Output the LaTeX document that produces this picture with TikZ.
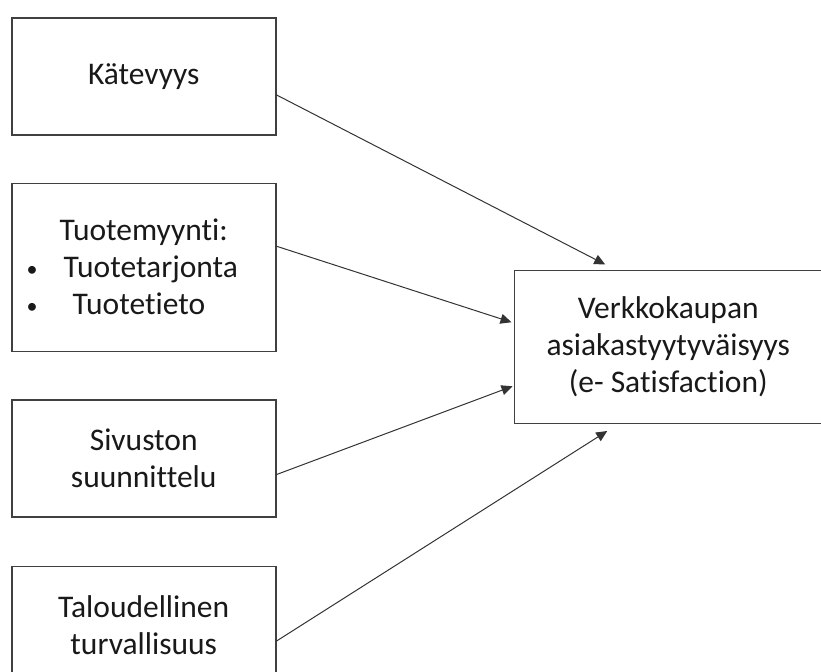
\documentclass[tikz,border=0pt]{standalone}
\usepackage{fontspec}
\setmainfont{Carlito}[Ligatures=NoCommon]
\usepackage{tikz}
\usepackage{xcolor}
\usetikzlibrary{shapes,arrows.meta,positioning,calc}

\newcommand{\smallbul}{{\fontsize{11}{11}\selectfont\raisebox{0.5pt}{\textbullet}}}

\tikzset{
	box/.style={rectangle, draw=black!75, line width=0.75pt, minimum width=132pt, minimum height=58.5pt, align=center, text=black!90, font=\fontsize{15.75}{18.5}\selectfont},
	arr/.style={draw=black!80, line width=0.5pt, -{Triangle[length=5.5pt,width=5pt]}}
}

\begin{document}
\begin{tikzpicture}
				\useasboundingbox (0,0) rectangle (410.5pt,-335.5pt);
				\node[box, anchor=north west] (kat) at (5.5pt,-8.5pt) {Kätevyys};
				\node[box, minimum height=84pt, below=23.5pt of kat, align=left, text width=120pt, inner xsep=6pt] (tuo) {\makebox[120pt]{Tuotemyynti:}\\ \makebox[20pt][l]{\hspace{1.5pt}\smallbul}Tuotetarjonta\\ \makebox[24.5pt][l]{\hspace{1.5pt}\smallbul}Tuotetieto};
				\node[box, below=23.5pt of tuo] (siv) {Sivuston\\ suunnittelu};
				\node[box, below=24pt of siv] (tal) {Taloudellinen\\ turvallisuus};
				\node[box, minimum width=154pt, minimum height=76.5pt, right=118.5pt of tuo, yshift=-39.75pt] (sat) {Verkkokaupan\\ asiakastyytyväisyys\\ (e- Satisfaction)};
				
				\draw[arr] (kat.-8.4) -- ([shift={(-31.5pt,2.5pt)}]sat.north);
				\draw[arr] (tuo.9.9) -- ([shift={(-1pt,12.25pt)}]sat.west);
				\draw[arr] (siv.-7.6) -- ([shift={(-0.5pt,-19.75pt)}]sat.west);
				\draw[arr] (tal.-7.3) -- ([shift={(-30.5pt,-3.5pt)}]sat.south);
			\end{tikzpicture}
\end{document}
